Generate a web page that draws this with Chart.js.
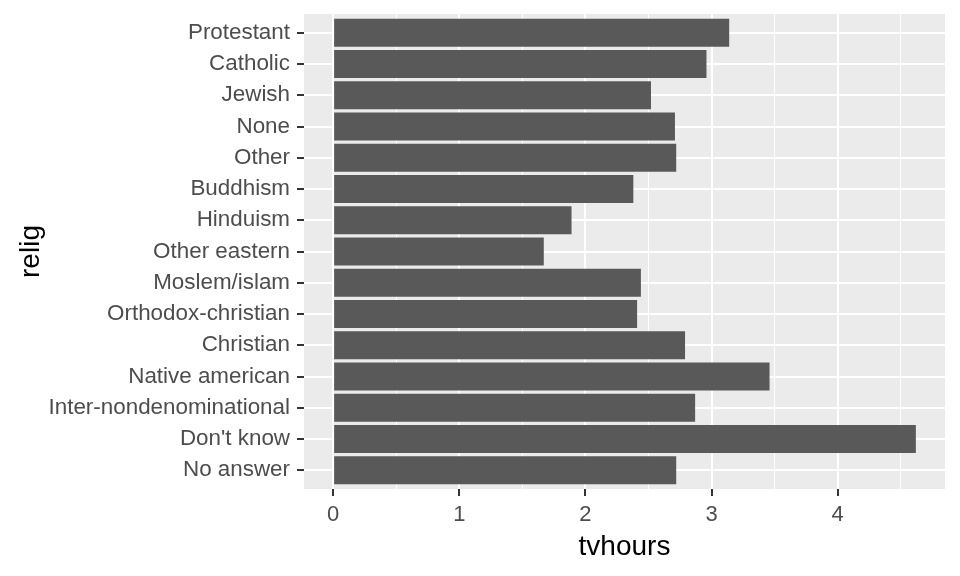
<!DOCTYPE html>
<html>
<head>
<meta charset="utf-8">
<script src="https://cdn.jsdelivr.net/npm/chart.js@4.4.0/dist/chart.umd.min.js"></script>
<style>
  body { margin: 0; background: #fff; }
</style>
</head>
<body>
<canvas id="relChart" width="960" height="576"></canvas>
<script>
const religions = ['Protestant', 'Catholic', 'Jewish', 'None', 'Other', 'Buddhism', 'Hinduism',
    'Other eastern', 'Moslem/islam', 'Orthodox-christian', 'Christian', 'Native american',
    'Inter-nondenominational', "Don't know", 'No answer']
const tvhours = [3.14, 2.96, 2.52, 2.71, 2.72, 2.38, 1.89, 1.67, 2.44, 2.41, 2.79, 3.46, 2.87, 4.62, 2.72]
const xGrid = [0, 0.5, 1, 1.5, 2, 2.5, 3, 3.5, 4, 4.5]

const xPad = Math.max(...tvhours) * 0.05

// grey panel behind the plot
const panelBg = {
    id: 'panelBg',
    beforeDraw(chart) {
        const a = chart.chartArea
        const c = chart.ctx
        c.save()
        c.fillStyle = '#EBEBEB'
        c.fillRect(a.left, a.top, a.right - a.left, a.bottom - a.top)
        c.restore()
    }
}

const isMajor = v => Number.isInteger(v)

var ctx = document.getElementById('relChart').getContext('2d');
var relChart = new Chart(ctx, {
    type: 'bar',
    data: {
        labels: religions,
        datasets: [{
            label: 'tvhours',
            data: tvhours,
            backgroundColor: '#595959',
            borderWidth: 0,
            categoryPercentage: 1,
            barPercentage: 0.9
        }]
    },
    plugins: [panelBg],
    options: {
        indexAxis: 'y',
        responsive: false,
        animation: false,
        devicePixelRatio: 1,
        layout: { padding: { top: 14, right: 15, left: 0, bottom: 0 } },
        plugins: { legend: { display: false }, tooltip: { enabled: false } },
        scales: {
            x: {
                type: 'linear',
                min: -xPad,
                max: Math.max(...tvhours) + xPad,
                afterBuildTicks: s => { s.ticks = xGrid.map(v => ({ value: v })) },
                afterFit: s => { s.height = 87; s.paddingLeft = 0; s.paddingRight = 0 },
                border: { display: false },
                grid: {
                    color: '#FFFFFF',
                    lineWidth: c => (c.tick && isMajor(c.tick.value)) ? 2 : 1,
                    tickColor: c => (c.tick && isMajor(c.tick.value)) ? '#333333' : 'rgba(0,0,0,0)',
                    tickLength: 7,
                    tickWidth: 2
                },
                ticks: {
                    autoSkip: false,
                    maxRotation: 0,
                    padding: 6,
                    color: '#4D4D4D',
                    font: { family: "'Liberation Sans', Arial", size: 22 },
                    callback: v => isMajor(v) ? String(v) : ''
                },
                title: {
                    display: true,
                    text: 'tvhours',
                    color: '#000000',
                    font: { family: "'Liberation Sans', Arial", size: 28 },
                    padding: { top: 0, bottom: 12 }
                }
            },
            y: {
                type: 'category',
                offset: true,
                afterBuildTicks: s => { s._startValue = -0.6; s._valueRange = religions.length + 0.2 },
                afterFit: s => { s.width = 304; s.paddingTop = 0; s.paddingBottom = 0 },
                border: { display: false },
                grid: {
                    offset: false,
                    color: '#FFFFFF',
                    lineWidth: 2,
                    tickColor: '#333333',
                    tickLength: 7,
                    tickWidth: 2
                },
                ticks: {
                    autoSkip: false,
                    padding: 7,
                    color: '#4D4D4D',
                    font: { family: "'Liberation Sans', Arial", size: 22.4 }
                },
                title: {
                    display: true,
                    text: 'relig',
                    color: '#000000',
                    font: { family: "'Liberation Sans', Arial", size: 28 },
                    padding: { top: 14, bottom: 0 }
                }
            }
        }
    }
});
</script>
</body>
</html>
